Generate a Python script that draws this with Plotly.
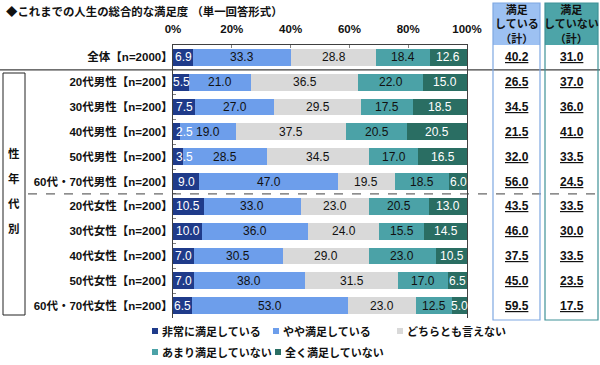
import plotly.graph_objects as go

# ---------------- data ----------------
categories = [
    "全体【n=2000】",
    "20代男性【n=200】", "30代男性【n=200】", "40代男性【n=200】",
    "50代男性【n=200】", "60代・70代男性【n=200】",
    "20代女性【n=200】", "30代女性【n=200】", "40代女性【n=200】",
    "50代女性【n=200】", "60代・70代女性【n=200】",
]
series_names = ["非常に満足している", "やや満足している", "どちらとも言えない",
                "あまり満足していない", "全く満足していない"]
very_satisfied = [6.9, 5.5, 7.5, 2.5, 3.5, 9.0, 10.5, 10.0, 7.0, 7.0, 6.5]
somewhat_satisfied = [33.3, 21.0, 27.0, 19.0, 28.5, 47.0, 33.0, 36.0, 30.5, 38.0, 53.0]
neutral = [28.8, 36.5, 29.5, 37.5, 34.5, 19.5, 23.0, 24.0, 29.0, 31.5, 23.0]
not_very_satisfied = [18.4, 22.0, 17.5, 20.5, 17.0, 18.5, 20.5, 15.5, 23.0, 17.0, 12.5]
not_at_all_satisfied = [12.6, 15.0, 18.5, 20.5, 16.5, 6.0, 13.0, 14.5, 10.5, 6.5, 5.0]
satisfied_total = [40.2, 26.5, 34.5, 21.5, 32.0, 56.0, 43.5, 46.0, 37.5, 45.0, 59.5]
dissatisfied_total = [31.0, 37.0, 36.0, 41.0, 33.5, 24.5, 33.5, 30.0, 33.5, 23.5, 17.5]
x_tick_vals = [0, 20, 40, 60, 80, 100]
x_tick_text = ["0%", "20%", "40%", "60%", "80%", "100%"]
title_text = "◆これまでの人生の総合的な満足度 （単一回答形式）"
group_label = ["性", "年", "代", "別"]
header_satisfied = "満足<br>している<br>（計）"
header_dissatisfied = "満足<br>していない<br>（計）"

# ---------------- style ----------------
FONT = "Liberation Sans, Arial, Noto Sans CJK JP, sans-serif"
colors = ["#1F3B8A", "#6D9EEB", "#D9D9D9", "#4BA2A7", "#2A6E63"]
text_colors = ["#FFFFFF", "#111111", "#111111", "#111111", "#FFFFFF"]
series_values = [very_satisfied, somewhat_satisfied, neutral,
                 not_very_satisfied, not_at_all_satisfied]

W, H = 600, 365
L, R, T, B = 173, 133, 45, 47
PW = W - L - R
PH = H - T - B
N = len(categories)


def px_x(p):
    return (p - L) / PW


def px_y(p):
    return 1 - (p - T) / PH


def row_boundary_px(k):
    return T + k * PH / N


fig = go.Figure()
for name, vals, c in zip(series_names, series_values, colors):
    fig.add_trace(go.Bar(
        y=categories, x=vals, name=name, orientation="h",
        marker=dict(color=c, line=dict(width=0)),
        hoverinfo="skip",
    ))

shapes = []
annotations = []

# segment value labels (drawn on top of all bars)
starts = [0.0] * N
for vals, tc in zip(series_values, text_colors):
    for i, (cat, v) in enumerate(zip(categories, vals)):
        s = starts[i]
        if s == 0 and v < 5:
            ann = dict(x=s + 0.2, xanchor="left")
        else:
            ann = dict(x=s + v / 2, xanchor="center")
        ann.update(xref="x", yref="y", y=cat, text=f"{v:.1f}", showarrow=False,
                   yanchor="middle",
                   font=dict(size=12, family=FONT, color=tc))
        annotations.append(ann)
        starts[i] = s + v

# solid separator below 全体
yb = px_y(row_boundary_px(1))
shapes.append(dict(type="line", xref="paper", yref="paper",
                   x0=px_x(0), x1=px_x(600), y0=yb, y1=yb,
                   line=dict(color="#404040", width=1.2)))
# dashed separator between men and women
yd = px_y(row_boundary_px(6))
shapes.append(dict(type="line", xref="paper", yref="paper",
                   x0=px_x(28), x1=px_x(600), y0=yd, y1=yd,
                   line=dict(color="#404040", width=1, dash="dash")))
# left group box
shapes.append(dict(type="rect", xref="paper", yref="paper",
                   x0=px_x(3), x1=px_x(25), y0=px_y(73), y1=px_y(315),
                   line=dict(color="#222222", width=1)))
for i, ch in enumerate(group_label):
    annotations.append(dict(xref="paper", yref="paper", x=px_x(14),
                            y=px_y(153 + i * 25.3), text=ch, showarrow=False,
                            xanchor="center", yanchor="middle",
                            font=dict(size=11.5, family=FONT, color="#111111", weight="bold")))

# right boxes
boxes = [
    (493, 540, "#9DC1F2", "#7FA8E2", header_satisfied, satisfied_total),
    (545, 598, "#4DA4A8", "#3F9297", header_dissatisfied, dissatisfied_total),
]
for x0, x1, fill, border, head, vals in boxes:
    shapes.append(dict(type="rect", xref="paper", yref="paper",
                       x0=px_x(x0), x1=px_x(x1), y0=px_y(45), y1=px_y(3),
                       fillcolor=fill, line=dict(width=0), layer="below"))
    shapes.append(dict(type="rect", xref="paper", yref="paper",
                       x0=px_x(x0), x1=px_x(x1), y0=px_y(320), y1=px_y(3),
                       line=dict(color=border, width=1.2)))
    annotations.append(dict(xref="paper", yref="paper", x=px_x((x0 + x1) / 2),
                            y=px_y(24), text=head, showarrow=False,
                            xanchor="center", yanchor="middle",
                            font=dict(size=11, family=FONT, color="#111111", weight="bold")))
    for cat, v in zip(categories, vals):
        annotations.append(dict(xref="paper", yref="y", x=px_x((x0 + x1) / 2),
                                y=cat, text=f"{v:.1f}", showarrow=False,
                                xanchor="center", yanchor="middle",
                                font=dict(size=12, family=FONT, color="#111111",
                                          weight="bold", lineposition="under")))

# title
annotations.append(dict(xref="paper", yref="paper", x=px_x(4), y=px_y(11),
                        text=title_text, showarrow=False, xanchor="left",
                        yanchor="middle",
                        font=dict(size=11.4, family=FONT, color="#111111", weight="bold")))

# legend (manual)
legend_pos = [(152, 331), (273, 331), (397, 331), (152, 352), (275, 352)]
for (lx, ly), name, c in zip(legend_pos, series_names, colors):
    shapes.append(dict(type="rect", xref="paper", yref="paper",
                       x0=px_x(lx), x1=px_x(lx + 6), y0=px_y(ly + 3), y1=px_y(ly - 3),
                       fillcolor=c, line=dict(width=0)))
    annotations.append(dict(xref="paper", yref="paper", x=px_x(lx + 8), y=px_y(ly),
                            text=name, showarrow=False, xanchor="left",
                            yanchor="middle",
                            font=dict(size=11, family=FONT, color="#111111", weight="bold")))

fig.update_layout(
    width=W, height=H,
    margin=dict(l=L, r=R, t=T, b=B, pad=0),
    paper_bgcolor="white", plot_bgcolor="white",
    barmode="stack", bargap=0.32, showlegend=False,
    font=dict(family=FONT, color="#111111"),
    xaxis=dict(range=[0, 100], side="top", tickvals=x_tick_vals,
               ticktext=x_tick_text, ticks="inside", ticklen=3,
               tickcolor="#808080", showgrid=False, zeroline=False,
               showline=True, linecolor="#404040", linewidth=1,
               ticklabelstandoff=6,
               tickfont=dict(size=11.5, family=FONT, color="#111111", weight="bold"),
               fixedrange=True),
    yaxis=dict(categoryorder="array", categoryarray=categories,
               autorange="reversed", showline=True, mirror=True,
               linecolor="#404040", linewidth=1, ticks="inside",
               tickson="boundaries", ticklen=3, tickcolor="#808080",
               showgrid=False, zeroline=False, ticklabelstandoff=-3,
               tickfont=dict(size=11.5, family=FONT, color="#111111", weight="bold"),
               fixedrange=True),
    shapes=shapes, annotations=annotations,
)

fig.write_html("out.html", config={"displayModeBar": False},
               post_script="document.body.style.margin='0px';")
